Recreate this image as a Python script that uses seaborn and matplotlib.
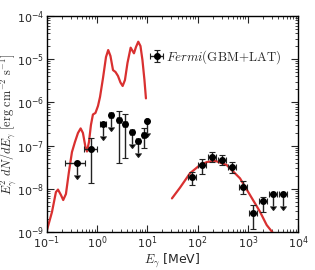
import numpy as np
import pandas as pd
import matplotlib
matplotlib.use("Agg")
import matplotlib.pyplot as plt
from matplotlib.font_manager import FontProperties
import seaborn as sns

sns.set_theme(style="ticks")
plt.rcParams['font.family'] = ['DejaVu Sans']

# --- model curves (E in MeV, E^2 dN/dE in erg cm^-2 s^-1) ---
low_E = [0.1, 0.126, 0.151, 0.166, 0.19, 0.211, 0.239, 0.274, 0.315, 0.361, 0.415,
         0.469, 0.521, 0.585, 0.627, 0.687, 0.752, 0.824, 0.925, 1.04, 1.14, 1.31,
         1.5, 1.66, 1.84, 2.07, 2.32, 2.6, 2.91, 3.22, 3.58, 4.02, 4.65, 5.41, 5.93,
         6.59, 7.29, 7.98, 8.75, 9.37]
low_F = [1.1e-9, 2.9e-9, 8.4e-9, 9.6e-9, 7.2e-9, 5.5e-9, 7.6e-9, 2.45e-8, 7.1e-8,
         1.21e-7, 1.96e-7, 2.5e-7, 1.96e-7, 9.3e-8, 7.3e-8, 1.21e-7, 3.0e-7, 5.25e-7,
         5.7e-7, 8.3e-7, 1.33e-6, 3.7e-6, 1.12e-5, 1.63e-5, 1.19e-5, 5.6e-6, 5.06e-6,
         4.1e-6, 2.9e-6, 2.4e-6, 3.3e-6, 8.2e-6, 1.85e-5, 1.37e-5, 1.91e-5, 2.54e-5,
         2.02e-5, 9.6e-6, 3.3e-6, 1.24e-6]
high_E = [30.9, 44.6, 70.6, 112, 154, 222, 380, 700, 1107, 1750, 2380, 3220]
high_F = [6.0e-9, 1.06e-8, 2.29e-8, 3.56e-8, 4.17e-8, 4.47e-8, 3.56e-8, 1.75e-8,
          7.2e-9, 2.95e-9, 1.45e-9, 9.3e-10]

# --- Fermi data points ---
det_E = [0.76, 2.68, 3.58, 8.55, 77, 122, 194, 310, 492, 790, 1250, 2040]
det_F = [8.3e-8, 3.9e-7, 3.16e-7, 1.79e-7, 1.9e-8, 3.56e-8, 5.5e-8, 4.6e-8,
         3.25e-8, 1.12e-8, 2.7e-9, 5.2e-9]
det_Fhi = [1.52e-7, 6.4e-7, 5.4e-7, 2.5e-7, 2.45e-8, 4.8e-8, 7.2e-8, 6.05e-8,
           4.2e-8, 1.55e-8, 4.2e-9, 6.6e-9]
det_Flo = [1.38e-8, 3.9e-8, 5.1e-8, 8.7e-8, 1.22e-8, 2.17e-8, 4.26e-8, 3.56e-8,
           2.3e-8, 7.5e-9, 1.15e-9, 2.95e-9]
det_Elo = [0.55, 2.45, 3.28, 7.8, 64, 102, 162, 258, 410, 660, 1040, 1700]
det_Ehi = [1.0, 2.95, 3.92, 9.4, 93, 146, 232, 372, 590, 950, 1500, 2450]

ul_E = [0.40, 1.32, 1.88, 4.93, 6.5, 9.8, 3220, 5100]
ul_F = [3.9e-8, 3.16e-7, 5.1e-7, 2.1e-7, 1.3e-7, 3.8e-7, 7.6e-9, 7.6e-9]
ul_Elo = [0.229, 1.14, 1.71, 4.5, 5.95, 9.3, 2680, 4250]
ul_Ehi = [0.57, 1.5, 2.06, 5.4, 7.1, 10.3, 3860, 6100]

red = "#d93030"

fig = plt.figure(figsize=(3.15, 2.70), dpi=100)
ax = fig.add_axes([0.149, 0.1407, 0.797, 0.80])

low = pd.DataFrame({"E": low_E, "F": low_F})
high = pd.DataFrame({"E": high_E, "F": high_F})
sns.lineplot(data=low, x="E", y="F", ax=ax, color=red, lw=1.6, sort=False)
sns.lineplot(data=high, x="E", y="F", ax=ax, color=red, lw=1.6, sort=False)

dE = np.array(det_E)
dF = np.array(det_F)
ax.errorbar(dE, dF,
            xerr=[dE - np.array(det_Elo), np.array(det_Ehi) - dE],
            yerr=[dF - np.array(det_Flo), np.array(det_Fhi) - dF],
            fmt="o", color="black", ms=4, lw=1.0, capsize=2, capthick=0.8,
            ecolor="#222222", label=r"$\mathit{Fermi}\mathrm{(GBM\!+\!LAT)}$")

uE = np.array(ul_E)
uF = np.array(ul_F)
ax.errorbar(uE, uF,
            xerr=[uE - np.array(ul_Elo), np.array(ul_Ehi) - uE],
            yerr=[uF - uF * 10 ** -0.28, np.zeros_like(uF)],
            fmt="o", color="black", ms=4, lw=1.0, capsize=2, capthick=0.8,
            ecolor="#222222", uplims=True)

ax.set_xscale("log")
ax.set_yscale("log")
ax.set_xlim(1e-1, 1e4)
ax.set_ylim(1e-9, 1e-4)
ax.tick_params(which="both", direction="in", top=True, right=True, labelsize=8, pad=2)
ax.tick_params(which="major", length=5, width=0.8)
ax.tick_params(which="minor", length=2.5, width=0.6)
for s in ax.spines.values():
    s.set_linewidth(1.0)
    s.set_color("black")

ax.set_xlabel(r"$E_\gamma$ [MeV]", fontsize=9, labelpad=0, math_fontfamily="cm")
ax.set_ylabel(r"$E_\gamma^2\ dN/dE_\gamma\ [\mathrm{erg\ cm^{-2}\ s^{-1}}]$",
              fontsize=8.8, math_fontfamily="cm")
ax.yaxis.set_label_coords(-0.112, 0.5)

ax.legend(loc="upper right", bbox_to_anchor=(0.98, 0.905), frameon=False,
          handletextpad=0.2, handlelength=1.0,
          prop=FontProperties(size=9.3, math_fontfamily="cm"))

fig.savefig("out.png", dpi=100)
